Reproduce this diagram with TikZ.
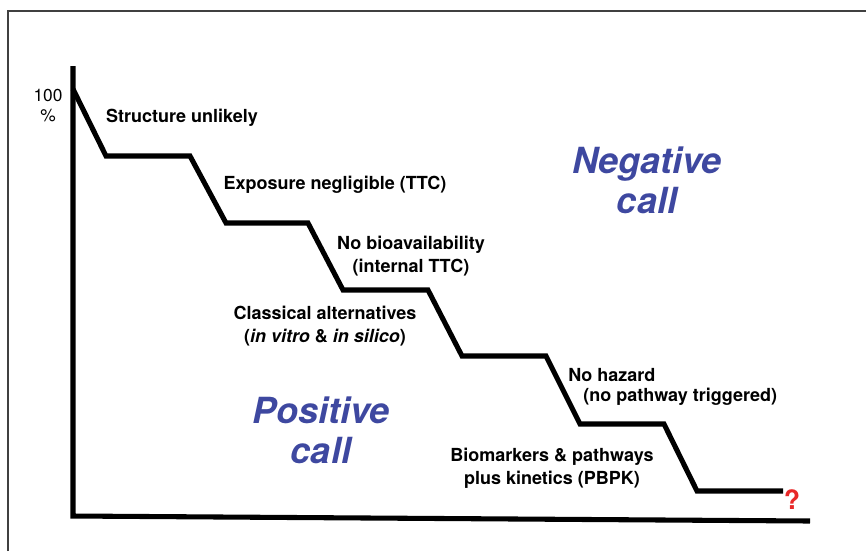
\documentclass[tikz,border=0pt]{standalone}
\usepackage{fontspec}
\setmainfont{TeX Gyre Heros}
\definecolor{callblue}{RGB}{62,72,160}
\definecolor{qred}{RGB}{232,40,40}

\begin{document}
\begin{tikzpicture}[x=0.75pt,y=-0.75pt,
  lbl/.style={font=\fontsize{13.5}{17}\selectfont\bfseries,align=center,inner sep=0pt},
  callt/.style={font=\fontsize{27}{30}\selectfont\bfseries\itshape,text=callblue,align=center,inner sep=0pt}]
 \useasboundingbox (0,0) rectangle (866,551);
 \draw[black!75,line width=0.8pt] (8,551) -- (8,11) -- (866,11);
 % axes
 \draw[line width=3.8pt] (73,66) -- (73,516) -- (810,521);
 % staircase
 \draw[line width=3.8pt] (73,89) -- (106,156) -- (190,156) -- (226,223) -- (308,223)
   -- (343,290) -- (428,290) -- (462,356) -- (546,356) -- (580,424) -- (664,424)
   -- (697,491) -- (783,491);
 \node[font=\fontsize{13}{15}\selectfont,align=center,inner sep=0pt] (pct) at (48,106) {100\\\%};
 \node[lbl] (unlikely) at (182,118) {Structure unlikely};
 \node[lbl] (exposure) at (335,185) {Exposure negligible (TTC)};
 \node[lbl] (bioavail) at (411,256) {No bioavailability\\(internal TTC)};
 \node[lbl] (classical) at (325,326) {Classical alternatives\\(\textit{in vitro} \& \textit{in silico})};
 \node[lbl,anchor=west] (hazard) at (568,375) {No hazard};
 \node[lbl,anchor=west] (hazardnote) at (583,397) {(no pathway triggered)};
 \node[lbl] (biomark) at (552,468) {Biomarkers \& pathways\\plus kinetics (PBPK)};
 \node[callt] (negcall) at (647,180) {Negative\\call};
 \node[callt] (poscall) at (321,430) {Positive\\call};
 \node[font=\fontsize{20}{22}\selectfont\bfseries,text=qred,inner sep=0pt] (query) at (792,500) {?};
\end{tikzpicture}
\end{document}
